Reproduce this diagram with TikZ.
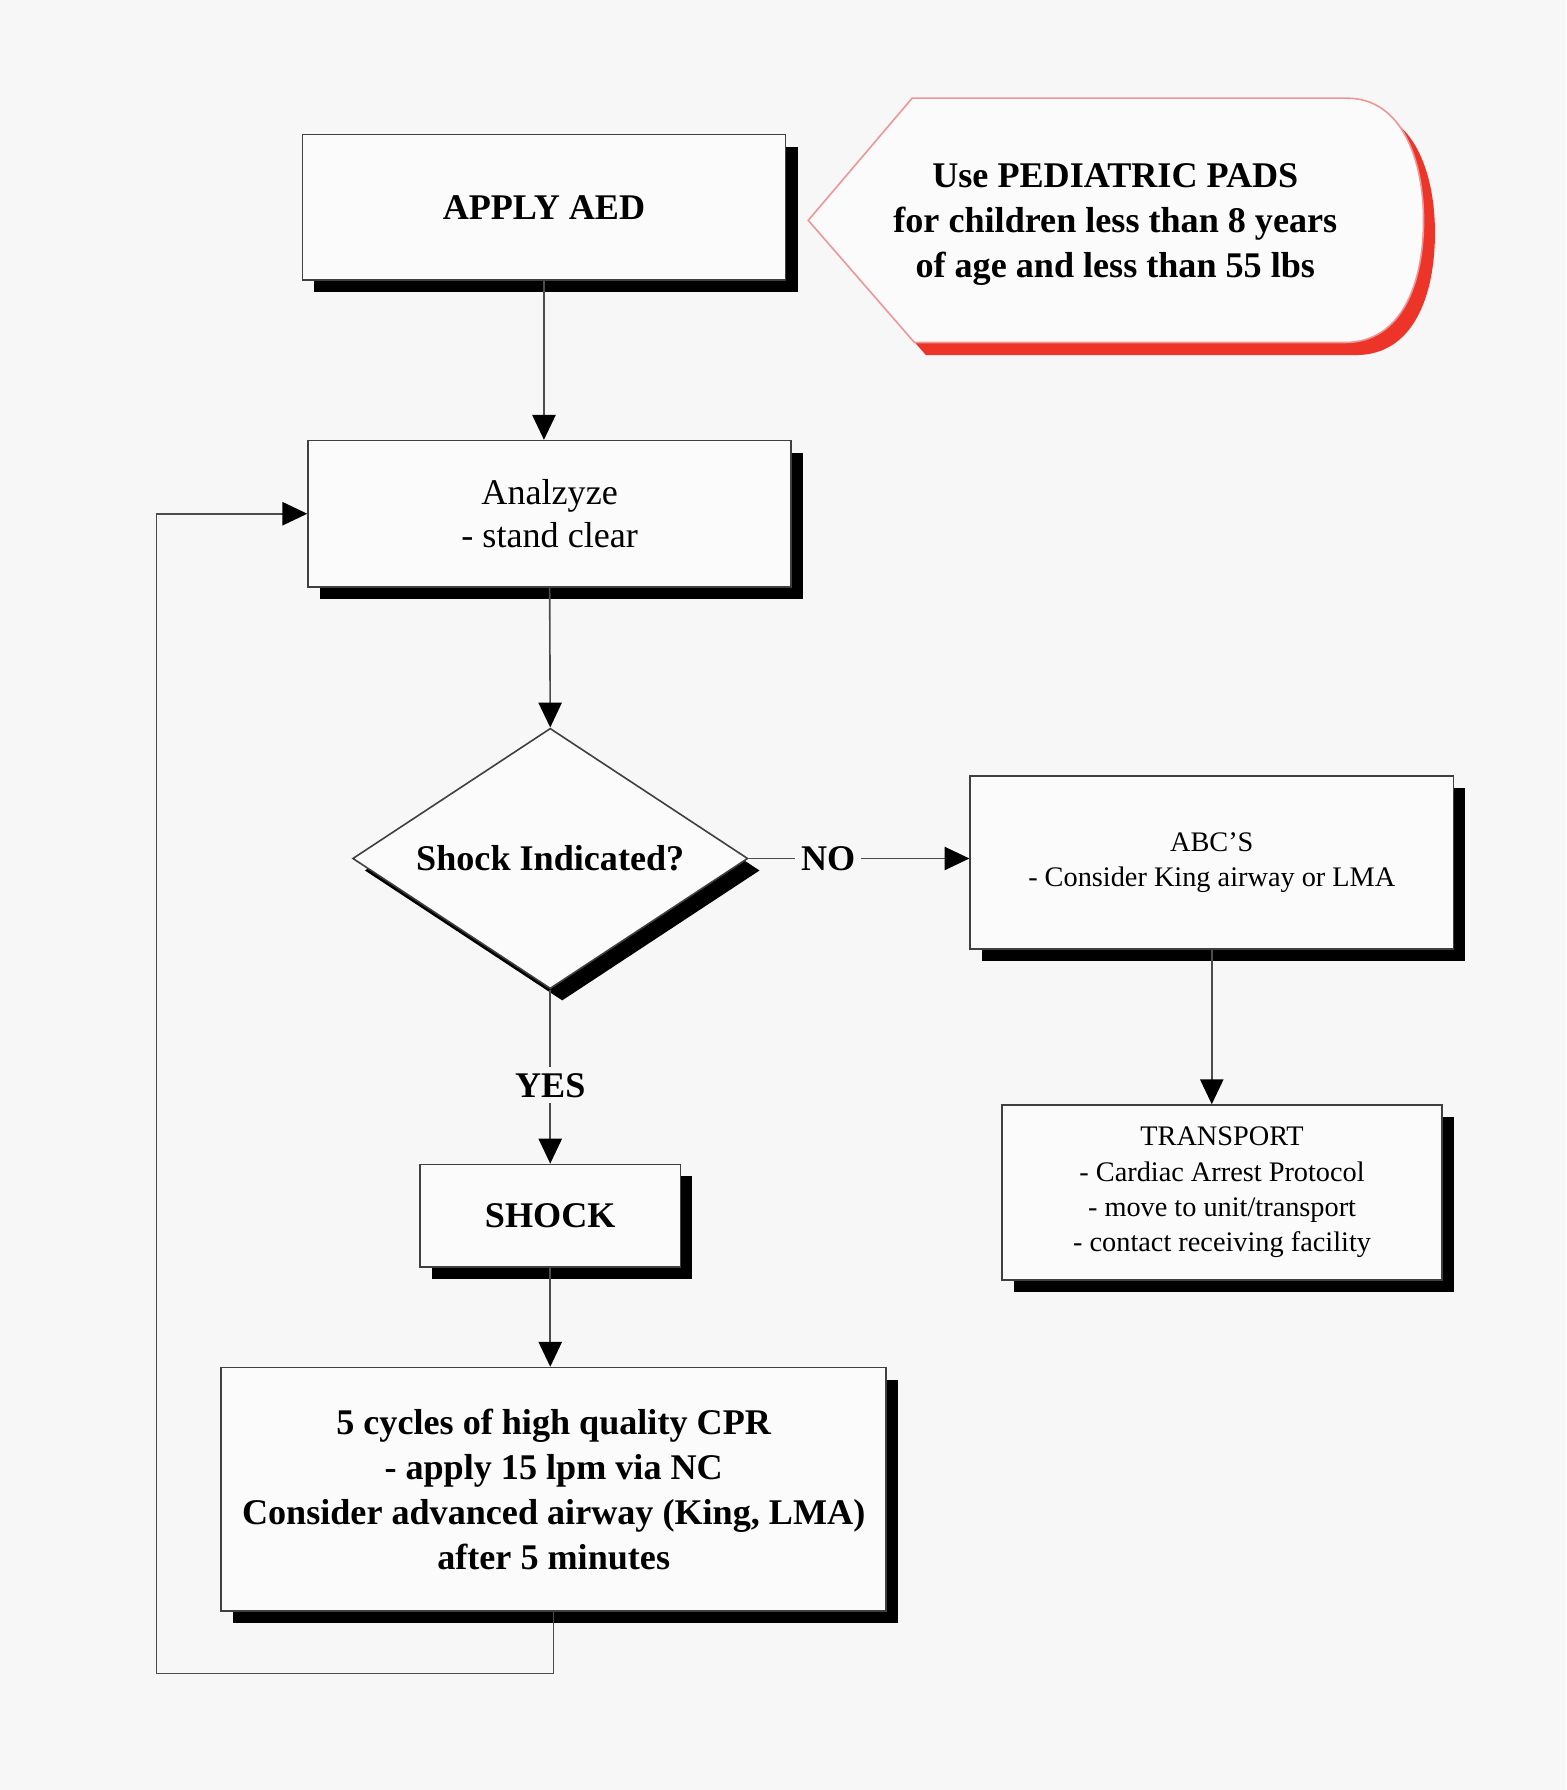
\documentclass[tikz,border=0pt]{standalone}
\usepackage{fontspec}
\setmainfont{Liberation Serif}
\usetikzlibrary{shapes.geometric,shadows,arrows.meta}
\definecolor{bg}{RGB}{247,247,247}
\definecolor{boxfill}{RGB}{251,251,251}
\definecolor{padred}{RGB}{236,52,40}
\definecolor{padedge}{RGB}{240,150,150}
\begin{document}
\begin{tikzpicture}[x=0.01cm,y=-0.01cm,
  box/.style={draw=black!75, line width=0.4pt, fill=boxfill, align=center, inner sep=0pt,
    drop shadow={shadow xshift=0.105cm, shadow yshift=-0.105cm, fill=black, opacity=1}},
  bigb/.style={font=\fontsize{9}{11.2}\selectfont\bfseries},
  reg/.style={font=\fontsize{9}{10.8}\selectfont},
  small/.style={font=\fontsize{7.05}{8.8}\selectfont},
  arr/.style={draw=black!70, line width=0.4pt, -{Triangle[width=5.8pt,length=6.2pt,color=black,fill=black]}},
  lab/.style={fill=bg, inner sep=1.5pt, font=\fontsize{9}{11}\selectfont\bfseries}]
\fill[bg] (0,0) rectangle (1372,1568);
\useasboundingbox (0,0) rectangle (1372,1568);

% pediatric pads display shape
\begin{scope}[shift={(10,11)}]
\fill[padred] (708,193) -- (799,86) -- (1180,86) .. controls (1228,86) and (1247,140) .. (1247,193) .. controls (1247,248) and (1228,300) .. (1178,300) -- (801,300) -- cycle;
\end{scope}
\filldraw[fill=boxfill, draw=padedge, line width=0.4pt] (708,193) -- (799,86) -- (1180,86) .. controls (1228,86) and (1247,140) .. (1247,193) .. controls (1247,248) and (1228,300) .. (1178,300) -- (801,300) -- cycle;
\node[bigb,align=center] (ped) at (977,197) {Use PEDIATRIC PADS\\for children less than 8 years\\of age and less than 55 lbs};

\node[box,bigb,minimum width=4.23cm,minimum height=1.27cm] (aed) at (476.5,181.5) {APPLY AED};
\node[box,reg,minimum width=4.23cm,minimum height=1.28cm] (an) at (481.5,450) {Analzyze\\- stand clear};
\node[box,bigb,diamond,aspect=1.52,minimum width=3.46cm,minimum height=2.28cm] (dia) at (482,752) {Shock Indicated?};
\node[box,small,minimum width=4.23cm,minimum height=1.51cm] (abc) at (1061.5,755.5) {ABC'S\\- Consider King airway or LMA};
\node[box,small,minimum width=3.85cm,minimum height=1.53cm] (tr) at (1070.5,1044.5) {TRANSPORT\\- Cardiac Arrest Protocol\\- move to unit/transport\\- contact receiving facility};
\node[box,bigb,minimum width=2.28cm,minimum height=0.9cm] (sh) at (482,1065) {SHOCK};
\node[box,bigb,minimum width=5.82cm,minimum height=2.13cm] (cpr) at (485,1304.5) {5 cycles of high quality CPR\\- apply 15 lpm via NC\\Consider advanced airway (King, LMA)\\after 5 minutes};

\draw[arr] (aed.south) -- (aed.south |- an.north);
\draw[arr] (an.south) -- (dia.north);
\draw[arr] (dia.east) -- node[lab,pos=0.36]{NO} (dia.east -| abc.west);
\draw[arr] (dia.south) -- node[lab,pos=0.55]{YES} (sh.north);
\draw[arr] (sh.south) -- (sh.south |- cpr.north);
\draw[arr] (abc.south) -- (abc.south |- tr.north);
\coordinate (lp) at (137,1466);
\draw[arr] (cpr.south) |- (lp) |- (an.west);
\end{tikzpicture}
\end{document}
